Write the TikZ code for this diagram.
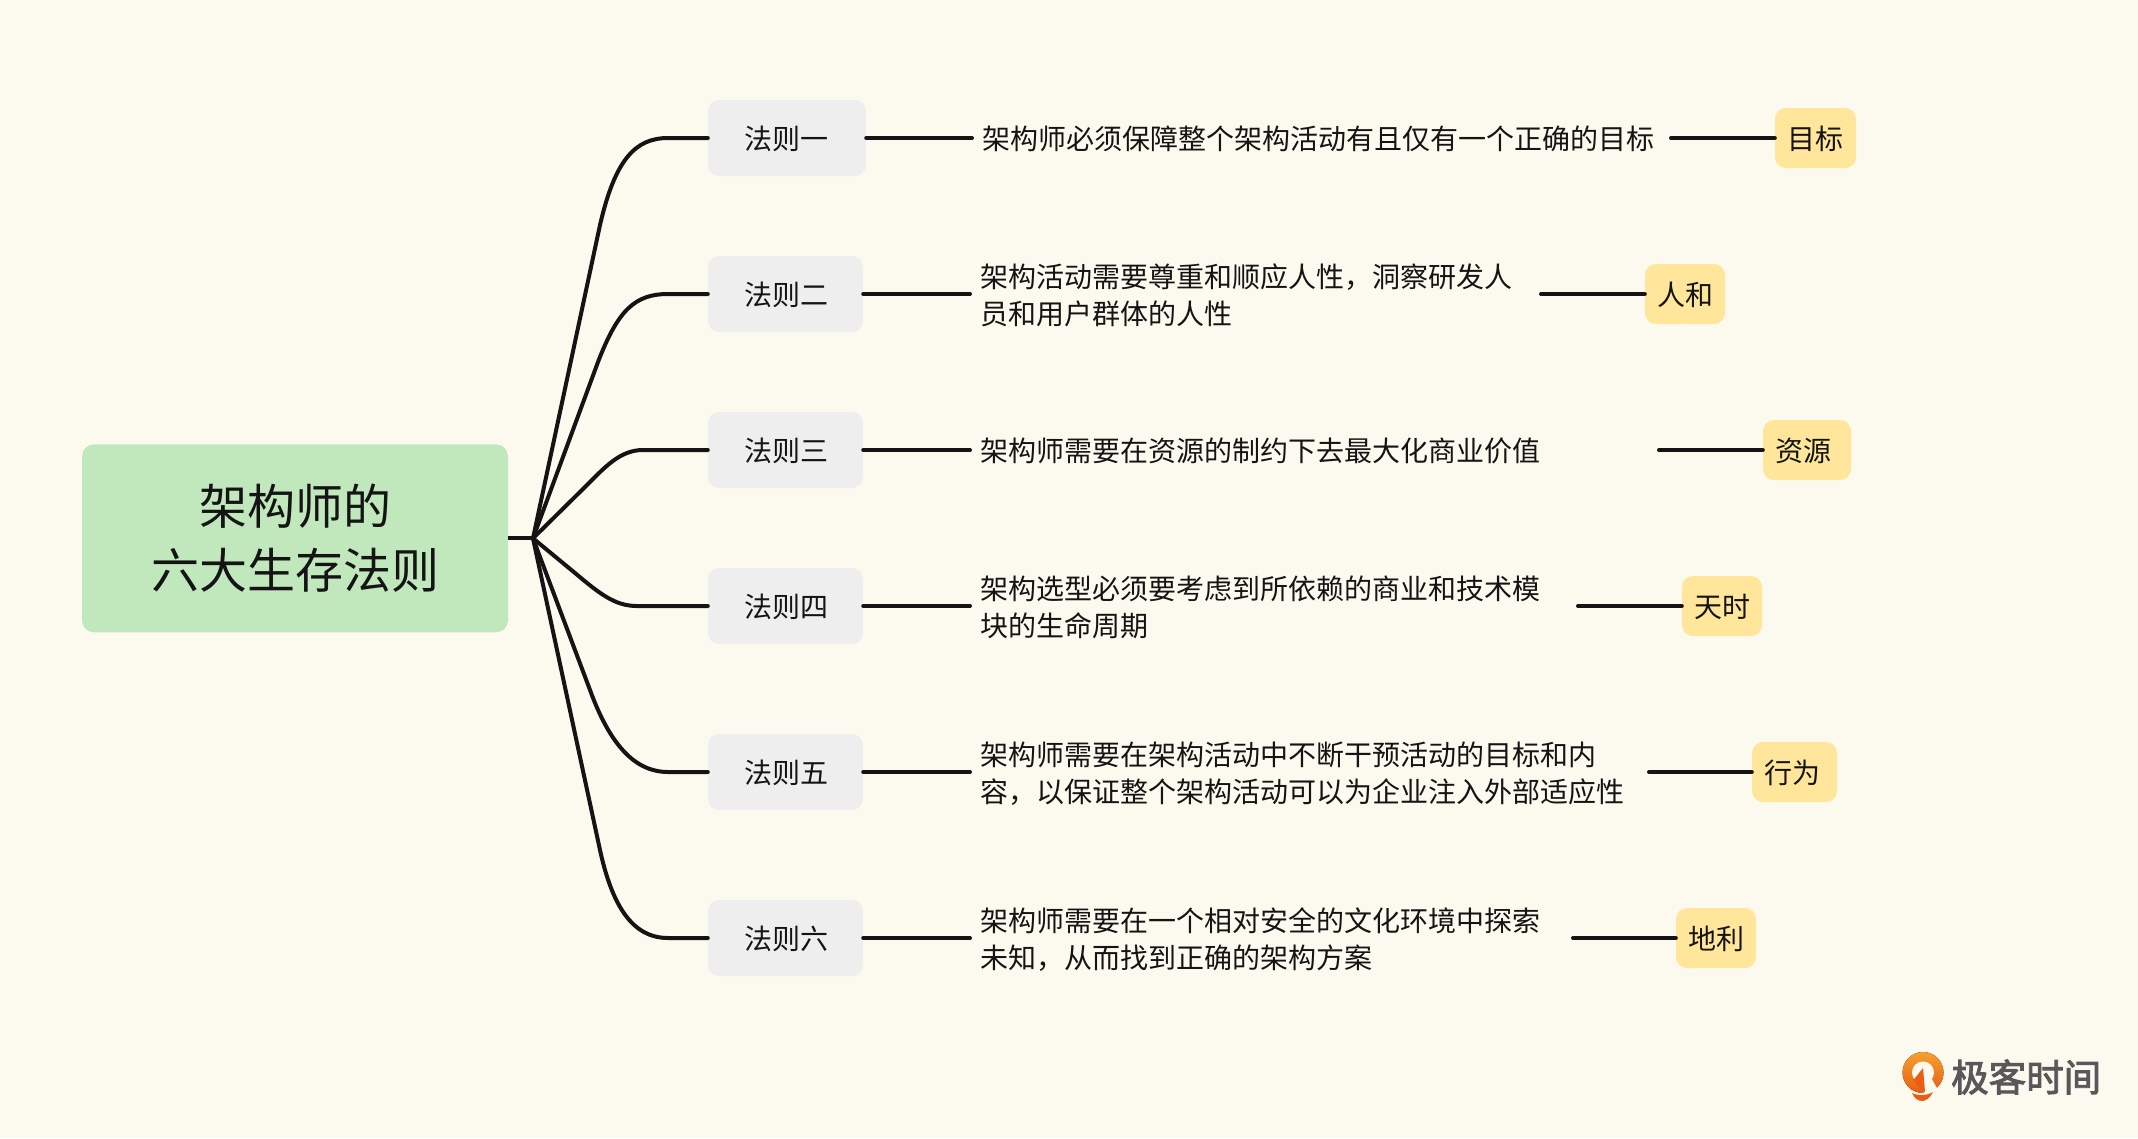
\documentclass[tikz,border=0pt]{standalone}
\usepackage{fontspec}
\setmainfont{Noto Sans CJK SC}
\newfontfamily\logofont[FakeBold=2.5]{Noto Sans CJK SC}
\definecolor{bgc}{HTML}{FCFAEE}
\definecolor{rootc}{HTML}{C1E8BC}
\definecolor{rulec}{HTML}{EEEEEE}
\definecolor{tagc}{HTML}{FFE69B}
\definecolor{ink}{HTML}{141414}
\definecolor{logoa}{HTML}{F5A030}
\definecolor{logob}{HTML}{E95E12}
\definecolor{logot}{HTML}{58585A}
\newcommand{\nudge}[1]{\raisebox{-0.6pt}[\height][\depth]{#1}}
\tikzset{
  rootbox/.style={fill=rootc,rounded corners=12pt,inner sep=0pt,align=center,font=\fontsize{48}{64}\selectfont,text=ink},
  rulebox/.style={fill=rulec,rounded corners=11pt,inner sep=0pt,minimum height=76pt,align=left,font=\fontsize{28}{37}\selectfont,text=ink},
  tagbox/.style={fill=tagc,rounded corners=11pt,inner sep=0pt,minimum height=60pt,font=\fontsize{28}{37}\selectfont,text=ink},
  desc/.style={anchor=west,inner sep=0pt,align=left,font=\fontsize{28}{37}\selectfont,text=ink},
  link/.style={draw=ink,line width=4pt,line cap=round,line join=round},
}
\begin{document}
\begin{tikzpicture}[x=1pt,y=-1pt]
\useasboundingbox[fill=bgc] (0,0) rectangle (2138,1138);
% root
\node[rootbox,minimum width=426pt,minimum height=188pt] (root) at (295,538.3) {架构师的\\六大生存法则};
\coordinate (hub) at (533,538.3);
% rules
\node[rulebox,minimum width=158pt,text width=85pt] (r1) at (787,138) {\nudge{法则一}};
\node[rulebox,minimum width=155pt,text width=82pt] (r2) at (785.5,294) {\nudge{法则二}};
\node[rulebox,minimum width=155pt,text width=82pt] (r3) at (785.5,450) {\nudge{法则三}};
\node[rulebox,minimum width=155pt,text width=82pt] (r4) at (785.5,606) {\nudge{法则四}};
\node[rulebox,minimum width=155pt,text width=82pt] (r5) at (785.5,772) {\nudge{法则五}};
\node[rulebox,minimum width=155pt,text width=82pt] (r6) at (785.5,938) {\nudge{法则六}};
% descriptions
\node[desc] (d1) at (982,139) {架构师必须保障整个架构活动有且仅有一个正确的目标};
\node[desc] (d2) at (980,295) {架构活动需要尊重和顺应人性，洞察研发人\\员和用户群体的人性};
\node[desc] (d3) at (980,451) {架构师需要在资源的制约下去最大化商业价值};
\node[desc] (d4) at (980,607) {架构选型必须要考虑到所依赖的商业和技术模\\块的生命周期};
\node[desc] (d5) at (980,773.6) {架构师需要在架构活动中不断干预活动的目标和内\\容，以保证整个架构活动可以为企业注入外部适应性};
\node[desc] (d6) at (980,939.6) {架构师需要在一个相对安全的文化环境中探索\\未知，从而找到正确的架构方案};
% tags
\node[tagbox,minimum width=81pt] (t1) at (1815.5,138) {\nudge{目标}};
\node[tagbox,minimum width=80pt] (t2) at (1685,294) {\nudge{人和}};
\node[tagbox,minimum width=88pt,text width=64pt,align=left] (t3) at (1807,450) {\nudge{资源}};
\node[tagbox,minimum width=80pt] (t4) at (1722,606) {\nudge{天时}};
\node[tagbox,minimum width=85pt,text width=61pt,align=left] (t5) at (1794.5,772) {\nudge{行为}};
\node[tagbox,minimum width=80pt] (t6) at (1716,938) {\nudge{地利}};
% free ends of the right-hand connectors
\coordinate (e1) at (1671,138);
\coordinate (e2) at (1541,294);
\coordinate (e3) at (1659,450);
\coordinate (e4) at (1578,606);
\coordinate (e5) at (1649,772);
\coordinate (e6) at (1573,938);
% connectors
\draw[link,line cap=butt] (root.east) -- (hub);
\draw[link] (hub) -- (600,225) .. controls (615,160) and (635,138) .. (668,138) -- (r1.west);
\draw[link] (hub) -- (598,362) .. controls (618,310) and (635,294) .. (668,294) -- (r2.west);
\draw[link] (hub) -- (585,487) .. controls (605,467) and (620,450) .. (643,450) -- (r3.west);
\draw[link] (hub) -- (575,573) .. controls (600,594) and (615,606) .. (637,606) -- (r4.west);
\draw[link] (hub) -- (590,690) .. controls (610,745) and (635,772) .. (668,772) -- (r5.west);
\draw[link] (hub) -- (600,850) .. controls (612,905) and (632,938) .. (668,938) -- (r6.west);
\foreach \i in {1,...,6}{
  \draw[link,shorten >=10pt] (r\i.east) -- (r\i.east -| d\i.west);
  \draw[link] (e\i) -- (t\i.west);
}
% logo
\fill[top color=logoa,bottom color=logob] (1923,1072.5) circle (20.5);
\fill[bgc] (1923,1072.5) circle (11);
\fill[bgc] (1921,1084) -- (1928,1072) -- (1939,1092) -- (1925,1096) -- cycle;
\fill[logob] (1913.5,1080) -- (1923,1068) -- (1925,1092) -- (1921,1090) -- cycle;
\fill[logob] (1912,1093) .. controls (1918,1096) and (1926,1096) .. (1933,1092) .. controls (1930,1098) and (1926,1101) .. (1922,1101) .. controls (1918,1101) and (1914,1098) .. (1912,1093) -- cycle;
\node[inner sep=0pt,anchor=west,text=logot,font=\fontsize{37.5}{37.5}\selectfont\logofont] (logo) at (1951,1077) {极客时间};
\end{tikzpicture}
\end{document}
